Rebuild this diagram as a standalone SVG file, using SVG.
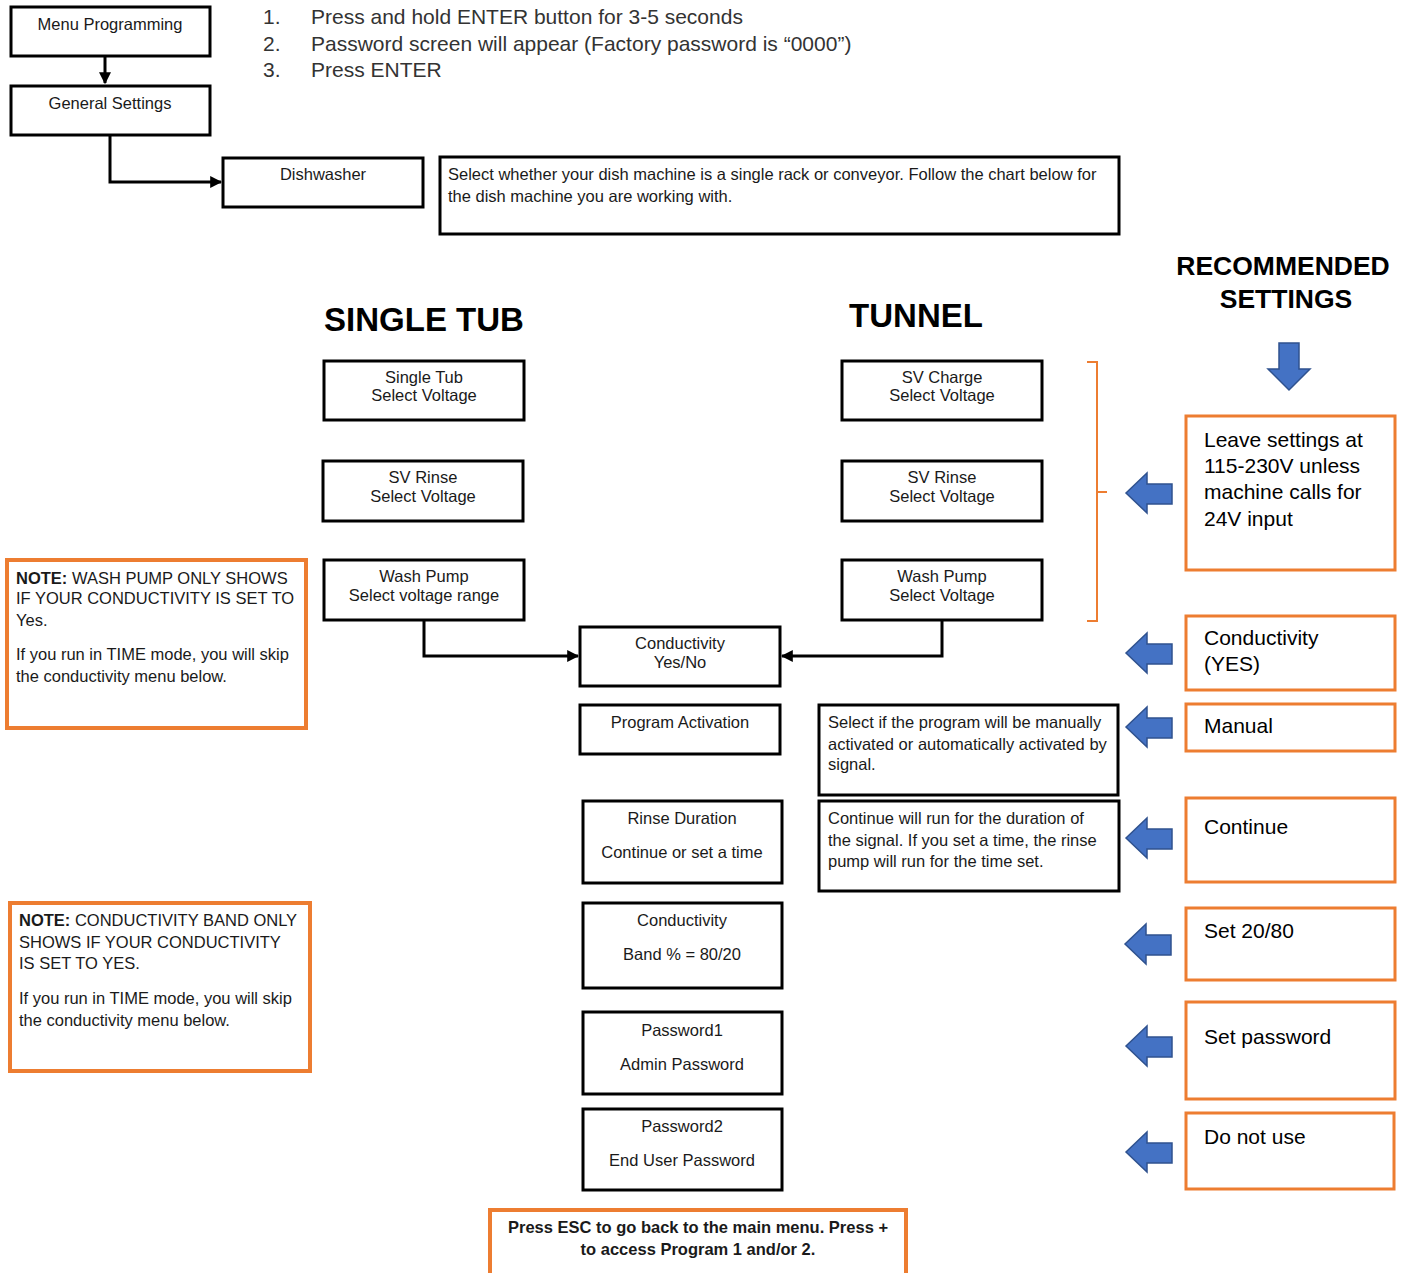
<svg xmlns="http://www.w3.org/2000/svg" width="1405" height="1273" viewBox="0 0 1405 1273">
<defs>
<style>
.b{fill:#fff;stroke:#000;stroke-width:3}
.o{fill:#fff;stroke:#ED7D31;stroke-width:3}
.on{fill:#fff;stroke:#ED7D31;stroke-width:4}
.t{font-family:"Liberation Sans",Arial,sans-serif;font-size:16.5px;fill:#1a1a1a}
.c{text-anchor:middle}
.r{font-family:"Liberation Sans",Arial,sans-serif;font-size:21px;fill:#000}
.h{font-family:"Liberation Sans",Arial,sans-serif;font-weight:bold;fill:#000;text-anchor:middle}
.l{font-family:"Liberation Sans",Arial,sans-serif;font-size:21px;fill:#333}
.ln{fill:none;stroke:#000;stroke-width:3}
.ba{fill:#4472C4;stroke:#2F528F;stroke-width:1.5}
</style>
<marker id="ah" viewBox="0 0 10 10" refX="9" refY="5" markerWidth="4" markerHeight="4" orient="auto"><path d="M0,0 L10,5 L0,10 z" fill="#000"/></marker>
<path id="la" d="M0,0 L21,-20 L21,-9 L46,-9 L46,11 L21,11 L21,20 z"/>
</defs>

<g id="list">
<text class="l" x="263" y="24">1.</text><text class="l" x="311" y="24">Press and hold ENTER button for 3-5 seconds</text>
<text class="l" x="263" y="51">2.</text><text class="l" x="311" y="51">Password screen will appear (Factory password is “0000”)</text>
<text class="l" x="263" y="77">3.</text><text class="l" x="311" y="77">Press ENTER</text>
</g>

<g id="connectors">
<line class="ln" x1="105" y1="56" x2="105" y2="83" marker-end="url(#ah)"/>
<polyline class="ln" points="110,135 110,182 221,182" marker-end="url(#ah)"/>
<polyline class="ln" points="424,620 424,656 578,656" marker-end="url(#ah)"/>
<polyline class="ln" points="942,620 942,656 782,656" marker-end="url(#ah)"/>
<path d="M1087,362 L1097,362 L1097,492 L1107,492 M1097,492 L1097,621 L1087,621" fill="none" stroke="#ED7D31" stroke-width="2"/>
</g>

<g id="menu-programming"><rect class="b" x="11" y="7" width="199" height="49"/><text class="t c" x="110" y="30">Menu Programming</text></g>
<g id="general-settings"><rect class="b" x="11" y="86" width="199" height="49"/><text class="t c" x="110" y="109">General Settings</text></g>
<g id="dishwasher"><rect class="b" x="223" y="158" width="200" height="49"/><text class="t c" x="323" y="180">Dishwasher</text></g>
<g id="dishwasher-desc"><rect class="b" x="440" y="157" width="679" height="77"/>
<text class="t" x="448" y="180">Select whether your dish machine is a single rack or conveyor. Follow the chart below for</text>
<text class="t" x="448" y="202">the dish machine you are working with.</text></g>

<g id="headings">
<text class="h" x="1283" y="275" font-size="26.5">RECOMMENDED</text>
<text class="h" x="1286" y="308" font-size="26.5">SETTINGS</text>
<text class="h" x="424" y="331" font-size="33">SINGLE TUB</text>
<text class="h" x="916" y="327" font-size="33">TUNNEL</text>
</g>

<g id="single-tub-voltage"><rect class="b" x="324" y="361" width="200" height="59"/><text class="t c" x="424" y="383">Single Tub</text><text class="t c" x="424" y="401">Select Voltage</text></g>
<g id="st-sv-rinse"><rect class="b" x="323" y="461" width="200" height="60"/><text class="t c" x="423" y="483">SV Rinse</text><text class="t c" x="423" y="502">Select Voltage</text></g>
<g id="st-wash-pump"><rect class="b" x="324" y="560" width="200" height="60"/><text class="t c" x="424" y="582">Wash Pump</text><text class="t c" x="424" y="601">Select voltage range</text></g>

<g id="sv-charge"><rect class="b" x="842" y="361" width="200" height="59"/><text class="t c" x="942" y="383">SV Charge</text><text class="t c" x="942" y="401">Select Voltage</text></g>
<g id="tn-sv-rinse"><rect class="b" x="842" y="461" width="200" height="60"/><text class="t c" x="942" y="483">SV Rinse</text><text class="t c" x="942" y="502">Select Voltage</text></g>
<g id="tn-wash-pump"><rect class="b" x="842" y="560" width="200" height="60"/><text class="t c" x="942" y="582">Wash Pump</text><text class="t c" x="942" y="601">Select Voltage</text></g>

<g id="conductivity"><rect class="b" x="580" y="627" width="200" height="59"/><text class="t c" x="680" y="649">Conductivity</text><text class="t c" x="680" y="668">Yes/No</text></g>
<g id="program-activation"><rect class="b" x="580" y="705" width="200" height="49"/><text class="t c" x="680" y="728">Program Activation</text></g>
<g id="program-activation-desc"><rect class="b" x="819" y="705" width="299" height="90"/>
<text class="t" x="828" y="728">Select if the program will be manually</text>
<text class="t" x="828" y="750">activated or automatically activated by</text>
<text class="t" x="828" y="770">signal.</text></g>
<g id="rinse-duration"><rect class="b" x="583" y="801" width="199" height="82"/><text class="t c" x="682" y="824">Rinse Duration</text><text class="t c" x="682" y="858">Continue or set a time</text></g>
<g id="rinse-duration-desc"><rect class="b" x="819" y="801" width="300" height="90"/>
<text class="t" x="828" y="824">Continue will run for the duration of</text>
<text class="t" x="828" y="846">the signal. If you set a time, the rinse</text>
<text class="t" x="828" y="867">pump will run for the time set.</text></g>
<g id="conductivity-band"><rect class="b" x="583" y="903" width="199" height="85"/><text class="t c" x="682" y="926">Conductivity</text><text class="t c" x="682" y="960">Band % = 80/20</text></g>
<g id="password1"><rect class="b" x="583" y="1012" width="199" height="82"/><text class="t c" x="682" y="1036">Password1</text><text class="t c" x="682" y="1070">Admin Password</text></g>
<g id="password2"><rect class="b" x="583" y="1109" width="199" height="81"/><text class="t c" x="682" y="1132">Password2</text><text class="t c" x="682" y="1166">End User Password</text></g>

<g id="press-esc"><rect class="on" x="490" y="1210" width="416" height="70"/>
<text class="t c" x="698" y="1233" font-weight="bold">Press ESC to go back to the main menu. Press +</text>
<text class="t c" x="698" y="1255" font-weight="bold">to access Program 1 and/or 2.</text></g>

<g id="note-wash-pump"><rect class="on" x="7" y="560" width="299" height="168"/>
<text class="t" x="16" y="584"><tspan font-weight="bold">NOTE:</tspan> WASH PUMP ONLY SHOWS</text>
<text class="t" x="16" y="604">IF YOUR CONDUCTIVITY IS SET TO</text>
<text class="t" x="16" y="626">Yes.</text>
<text class="t" x="16" y="660">If you run in TIME mode, you will skip</text>
<text class="t" x="16" y="682">the conductivity menu below.</text></g>

<g id="note-conductivity-band"><rect class="on" x="10" y="903" width="300" height="168"/>
<text class="t" x="19" y="926"><tspan font-weight="bold">NOTE:</tspan> CONDUCTIVITY BAND ONLY</text>
<text class="t" x="19" y="948">SHOWS IF YOUR CONDUCTIVITY</text>
<text class="t" x="19" y="969">IS SET TO YES.</text>
<text class="t" x="19" y="1004">If you run in TIME mode, you will skip</text>
<text class="t" x="19" y="1026">the conductivity menu below.</text></g>

<g id="down-arrow"><path class="ba" d="M1279,343 L1299,343 L1299,369 L1310,369 L1289,390 L1268,369 L1279,369 z"/></g>

<g id="blue-arrows">
<use href="#la" class="ba" x="1126" y="493"/>
<use href="#la" class="ba" x="1126" y="653"/>
<use href="#la" class="ba" x="1126" y="727"/>
<use href="#la" class="ba" x="1126" y="838"/>
<use href="#la" class="ba" x="1125" y="944"/>
<use href="#la" class="ba" x="1126" y="1046"/>
<use href="#la" class="ba" x="1126" y="1152"/>
</g>

<g id="rec-voltage"><rect class="o" x="1186" y="416" width="209" height="154"/>
<text class="r" x="1204" y="447">Leave settings at</text>
<text class="r" x="1204" y="473">115-230V unless</text>
<text class="r" x="1204" y="499">machine calls for</text>
<text class="r" x="1204" y="526">24V input</text></g>
<g id="rec-conductivity"><rect class="o" x="1186" y="616" width="209" height="74"/><text class="r" x="1204" y="645">Conductivity</text><text class="r" x="1204" y="671">(YES)</text></g>
<g id="rec-manual"><rect class="o" x="1186" y="704" width="209" height="47"/><text class="r" x="1204" y="733">Manual</text></g>
<g id="rec-continue"><rect class="o" x="1186" y="798" width="209" height="84"/><text class="r" x="1204" y="834">Continue</text></g>
<g id="rec-band"><rect class="o" x="1186" y="908" width="209" height="72"/><text class="r" x="1204" y="938">Set 20/80</text></g>
<g id="rec-password"><rect class="o" x="1186" y="1002" width="209" height="97"/><text class="r" x="1204" y="1044">Set password</text></g>
<g id="rec-do-not-use"><rect class="o" x="1186" y="1113" width="208" height="76"/><text class="r" x="1204" y="1144">Do not use</text></g>
</svg>
